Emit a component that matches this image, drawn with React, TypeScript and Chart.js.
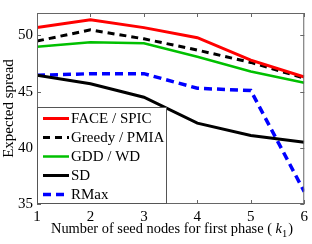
import React, { useEffect, useRef } from "react";
import { Chart, registerables } from "chart.js";

Chart.register(...registerables);

const xValues = [1, 2, 3, 4, 5, 6];
const faceSpic = [50.7, 51.4, 50.7, 49.8, 47.8, 46.3];
const greedyPmia = [49.5, 50.5, 49.7, 48.7, 47.6, 46.2];
const gddWd = [49.0, 49.4, 49.3, 48.1, 46.8, 45.8];
const sd = [46.45, 45.7, 44.5, 42.2, 41.1, 40.5];
const rmax = [46.45, 46.6, 46.6, 45.3, 45.1, 36.1];
const yTicks = [35, 40, 45, 50];
const seriesNames = ["FACE / SPIC", "Greedy / PMIA", "GDD / WD", "SD", "RMax"];

const FONT = "'Liberation Serif', 'Times New Roman', serif";

const framePlugin = {
  id: "frame",
  afterDatasetsDraw(chart: any) {
    const { ctx, chartArea } = chart;
    const { left, right, top, bottom } = chartArea;
    const xs = chart.scales.x;
    const ys = chart.scales.y;
    ctx.save();
    ctx.strokeStyle = "#666";
    ctx.lineWidth = 1;
    ctx.strokeRect(left + 0.5, top + 0.5, right - left - 1, bottom - top - 1);
    ctx.beginPath();
    const tl = 4;
    for (const v of xValues) {
      const px = Math.round(xs.getPixelForValue(v)) + 0.5;
      ctx.moveTo(px, bottom);
      ctx.lineTo(px, bottom - tl);
      ctx.moveTo(px, top);
      ctx.lineTo(px, top + tl);
    }
    for (const v of yTicks) {
      const py = Math.round(ys.getPixelForValue(v)) + 0.5;
      ctx.moveTo(left, py);
      ctx.lineTo(left + tl, py);
      ctx.moveTo(right, py);
      ctx.lineTo(right - tl, py);
    }
    ctx.stroke();

    // Legend
    const lx = left, ly = 107, lw = 129, lh = bottom - 107;
    ctx.fillStyle = "#fff";
    ctx.fillRect(lx, ly, lw, lh);
    ctx.strokeStyle = "#555";
    ctx.strokeRect(lx + 0.5, ly + 0.5, lw, lh - 1);
    ctx.font = `15px ${FONT}`;
    ctx.textBaseline = "middle";
    ctx.textAlign = "left";
    chart.data.datasets.forEach((ds: any, i: number) => {
      const cy = 118.5 + i * 19;
      ctx.beginPath();
      ctx.strokeStyle = ds.borderColor;
      ctx.lineWidth = ds.borderWidth;
      ctx.setLineDash(ds.borderDash || []);
      ctx.moveTo(lx + 6, cy);
      ctx.lineTo(lx + 32, cy);
      ctx.stroke();
      ctx.setLineDash([]);
      ctx.fillStyle = "#000";
      ctx.fillText(ds.label, lx + 34, cy + 1);
    });

    // Y title
    ctx.fillStyle = "#000";
    ctx.save();
    ctx.translate(9, (top + bottom) / 2);
    ctx.rotate(-Math.PI / 2);
    ctx.textAlign = "center";
    ctx.textBaseline = "middle";
    ctx.font = `15px ${FONT}`;
    ctx.fillText("Expected spread", 0, 0);
    ctx.restore();

    // X title
    const fs = 14.4;
    ctx.font = `${fs}px ${FONT}`;
    ctx.textBaseline = "alphabetic";
    const p1 = "Number of seed nodes for first phase ( ";
    const p2 = "k";
    const p3 = "1";
    const p4 = ")";
    const w1 = ctx.measureText(p1).width;
    ctx.font = `italic ${fs}px ${FONT}`;
    const w2 = ctx.measureText(p2).width;
    ctx.font = `10.5px ${FONT}`;
    const w3 = ctx.measureText(p3).width;
    ctx.font = `${fs}px ${FONT}`;
    const w4 = ctx.measureText(p4).width;
    const total = w1 + w2 + w3 + w4 + 1;
    let x0 = 172 - total / 2;
    const by = 233;
    ctx.textAlign = "left";
    ctx.fillText(p1, x0, by);
    x0 += w1;
    ctx.font = `italic ${fs}px ${FONT}`;
    ctx.fillText(p2, x0, by);
    x0 += w2;
    ctx.font = `10.5px ${FONT}`;
    ctx.fillText(p3, x0, by + 4);
    x0 += w3;
    ctx.font = `${fs}px ${FONT}`;
    ctx.fillText(p4, x0 + 1, by);
    ctx.restore();
  },
};

export default function App() {
  const ref = useRef<HTMLCanvasElement>(null);
  useEffect(() => {
    document.body.style.margin = "0";
    const mk = (arr: number[]) => xValues.map((x, i) => ({ x, y: arr[i] }));
    const chart = new Chart(ref.current!, {
      type: "line",
      data: {
        datasets: [
          { label: seriesNames[0], data: mk(faceSpic), borderColor: "#ff0000", borderWidth: 3 },
          { label: seriesNames[1], data: mk(greedyPmia), borderColor: "#000000", borderWidth: 3, borderDash: [7, 5] },
          { label: seriesNames[2], data: mk(gddWd), borderColor: "#00c000", borderWidth: 2.5 },
          { label: seriesNames[3], data: mk(sd), borderColor: "#000000", borderWidth: 3 },
          { label: seriesNames[4], data: mk(rmax), borderColor: "#0000ff", borderWidth: 3.5, borderDash: [8, 5] },
        ].map((d) => ({ ...d, pointRadius: 0, fill: false, tension: 0 })),
      },
      options: {
        animation: false,
        responsive: false,
        maintainAspectRatio: false,
        layout: { padding: { top: 5, right: 5, left: 0, bottom: 0 } },
        plugins: { legend: { display: false }, tooltip: { enabled: false } },
        scales: {
          x: {
            type: "linear",
            min: 1,
            max: 6,
            grid: { display: false, drawTicks: false },
            border: { display: false },
            ticks: {
              stepSize: 1,
              padding: 4,
              color: "#000",
              font: { family: FONT, size: 15 },
              maxRotation: 0,
            },
            afterBuildTicks: (s: any) => {
              s.ticks = xValues.map((v) => ({ value: v }));
            },
            afterFit: (s: any) => {
              s.height = 40;
            },
          },
          y: {
            type: "linear",
            min: 35,
            max: 52,
            grid: { display: false, drawTicks: false },
            border: { display: false },
            ticks: {
              padding: 4,
              color: "#000",
              font: { family: FONT, size: 15 },
            },
            afterBuildTicks: (s: any) => {
              s.ticks = yTicks.map((v) => ({ value: v }));
            },
            afterFit: (s: any) => {
              s.width = 37;
            },
          },
        },
      },
      plugins: [framePlugin],
    });
    return () => chart.destroy();
  }, []);
  return (
    <div style={{ width: 312, height: 244, background: "#fff" }}>
      <canvas ref={ref} width={312} height={244} style={{ width: 312, height: 244 }} />
    </div>
  );
}
